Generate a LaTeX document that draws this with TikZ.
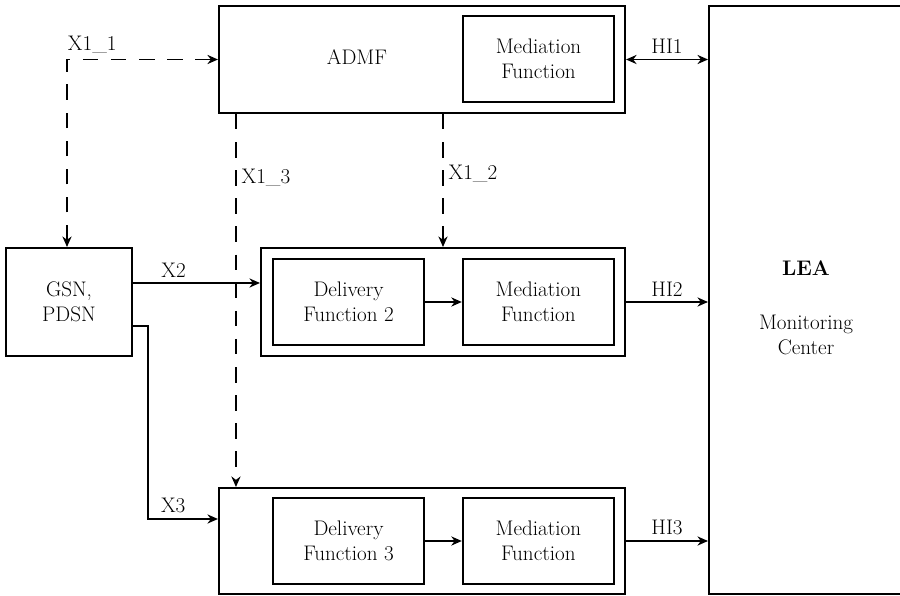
\documentclass[tikz,border=0pt]{standalone}
\usetikzlibrary{arrows.meta, positioning}

\begin{document}
\begin{tikzpicture}[x=0.025cm, y=-0.025cm, >={Stealth[length=7.5pt,width=6.5pt]}, line width=1.4pt,
    every node/.style={font=\fontsize{15}{18}\selectfont},
    block/.style={rectangle, draw, line width=1.4pt, align=center, minimum width=3.775cm, minimum height=2.15cm, inner sep=0pt},
    frame/.style={rectangle, draw, line width=1.4pt, inner sep=0pt},
    dashlink/.style={dash pattern=on 11pt off 9pt}]
        \useasboundingbox (0,0) rectangle (900,596);
        \clip (0,0) rectangle (900,596);

        % ADMF with its mediation function
        \node[frame, minimum width=10.15cm, minimum height=2.675cm] (admf) at (422,59.5) {};
        \node (admftxt) at (357,57.5) {ADMF};
        \node[block] (med1) at (538.5,59) {Mediation\\Function};

        \node[frame, align=center, minimum width=3.15cm, minimum height=2.7cm] (gsn) at (69,302) {GSN,\\PDSN};

        % delivery chain 2
        \node[frame, minimum width=9.1cm, minimum height=2.7cm] (frame2) at (443,302) {};
        \node[block] (del2) at (348.5,302) {Delivery\\Function 2};
        \node[block, right=0.92cm of del2] (med2) {Mediation\\Function};

        % delivery chain 3
        \node[frame, minimum width=10.15cm, minimum height=2.65cm] (frame3) at (422,541) {};
        \node[block] (del3) at (348.5,541) {Delivery\\Function 3};
        \node[block, right=0.92cm of del3] (med3) {Mediation\\Function};

        % monitoring center
        \node[frame, minimum width=4.85cm, minimum height=14.7cm] (lea) at (806,300) {};
        \node[align=center] (leatxt) at (806,308) {\textbf{LEA}\\[20pt]Monitoring\\Center};

        % X1 interfaces
        \draw[dashlink, <->] ([xshift=-0.05cm]gsn.north) |- node[pos=0.5, above right, inner xsep=0pt] {X1\_1} (admf.west);
        \draw[dashlink, ->] ([xshift=0.45cm]admf.south west) -- node[pos=0.17, right] {X1\_3} ([xshift=0.45cm]frame3.north west);
        \draw[dashlink, ->] (admf.south -| frame2.north) -- node[pos=0.45, right] {X1\_2} (frame2.north);

        % X2, X3
        \coordinate (x2out) at ([yshift=0.475cm]gsn.east);
        \draw[->] (x2out) -- node[pos=0.32, above] {X2} (x2out -| frame2.west);
        \draw[->] ([yshift=-0.6cm]gsn.east) -- ++(15,0) |- node[pos=0.68, above] {X3} ([yshift=0.55cm]frame3.west);

        \draw[->] (del2) -- (med2);
        \draw[->] (del3) -- (med3);

        % handover interfaces
        \draw[<->] (admf.east) -- node[above] {HI1} (admf.east -| lea.west);
        \draw[->] (frame2.east) -- node[above] {HI2} (frame2.east -| lea.west);
        \draw[->] (frame3.east) -- node[above] {HI3} (frame3.east -| lea.west);
\end{tikzpicture}
\end{document}
